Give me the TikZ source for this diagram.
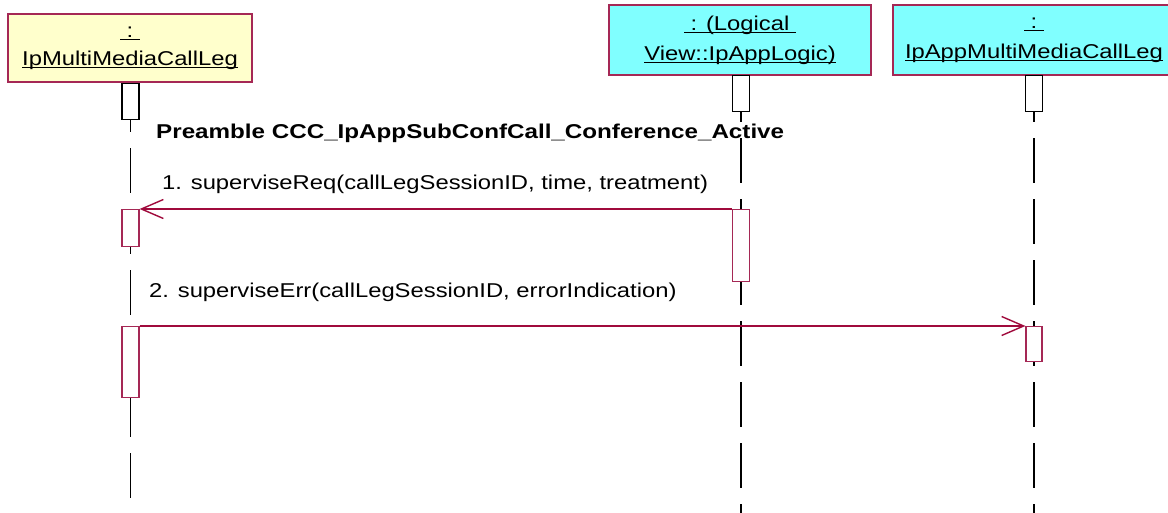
\documentclass[tikz,border=0pt]{standalone}
\usepackage{fontspec}
\setmainfont{Liberation Sans}
\usetikzlibrary{arrows.meta}
\definecolor{bord}{RGB}{165,40,85}
\definecolor{msgc}{RGB}{160,10,60}
\definecolor{ybox}{RGB}{255,255,204}
\definecolor{cbox}{RGB}{128,255,255}
\newcommand\hs[1]{\scalebox{1.19}[1]{#1}}
\newcommand\hsb[1]{\scalebox{1.21}[1]{#1}}
\newcommand\ulx[1]{\setbox0\hbox{\hs{#1}}\rlap{\rule[-3.2pt]{\wd0}{1.3pt}}\box0}
\tikzset{
  objbox/.style={draw=bord, line width=1.2pt, inner sep=0pt, align=center,
    font=\fontsize{20}{30}\selectfont},
  topact/.style={draw=black, fill=white, line width=1.2pt, inner sep=0pt,
    minimum width=17pt, minimum height=36pt},
  actbox/.style={draw=bord, fill=white, line width=1.2pt, inner sep=0pt, minimum width=17pt},
  lifeline/.style={draw=black, line width=1.3pt, dash pattern=on 45pt off 16pt},
  msg/.style={draw=msgc, line width=1.2pt, -{Straight Barb[length=22pt,width=19pt,line width=1.4pt]}},
  lbl/.style={anchor=base west, inner sep=0pt, font=\fontsize{20}{24}\selectfont}
}
\begin{document}
\begin{tikzpicture}[x=1pt,y=-1pt]
\useasboundingbox[fill=white] (0,0) rectangle (1168,513);
% objects
\node[objbox, fill=ybox, minimum width=244pt, minimum height=68pt,
  font=\fontsize{20}{28}\selectfont] (o1) at (130,48)
  {\ulx{\ :\ }\\\ulx{IpMultiMediaCallLeg}};
\node[objbox, fill=cbox, minimum width=262pt, minimum height=70pt] (o2) at (740,40)
  {\ulx{\ : (Logical\ }\\\ulx{View::IpAppLogic)}};
\node[objbox, fill=cbox, minimum width=282pt, minimum height=70pt] (o3) at (1034,40)
  {\ulx{\ :\ }\\\ulx{IpAppMultiMediaCallLeg}};
% top activations
\node[topact, anchor=north] (t1) at (130.5,83) {};
\node[topact, anchor=north] (t2) at (741,75) {};
\node[topact, anchor=north] (t3) at (1034,75) {};
% lifeline ends
\coordinate (e1) at (130.5,513);
\coordinate (e2) at (741,513);
\coordinate (e3) at (1034,513);
\draw[lifeline, dash phase=33pt] (t1.south) -- (e1);
\draw[lifeline, dash phase=35pt] (t2.south) -- (e2);
\draw[lifeline, dash phase=35pt] (t3.south) -- (e3);
% activation boxes
\node[actbox, anchor=north, minimum height=37pt] (a1) at (130.5,209) {};
\node[actbox, anchor=north, minimum height=72pt] (a2) at (741,209) {};
\node[actbox, anchor=north, minimum height=71pt] (a3) at (130.5,326) {};
\node[actbox, anchor=north, minimum width=16pt, minimum height=35pt] (a4) at (1034,326) {};
% messages
\draw[msg] (a2.north west) -- (a1.north east);
\draw[msg] (a3.north east) -- (a4.north west);
% labels
\node[lbl, font=\fontsize{20}{24}\selectfont\bfseries] (title) at (156,139)
  {\hsb{Preamble CCC\_IpAppSubConfCall\_Conference\_Active}};
\node[lbl] (m1) at (162,190) {\hs{1. superviseReq(callLegSessionID, time, treatment)}};
\node[lbl] (m2) at (149,298) {\hs{2. superviseErr(callLegSessionID, errorIndication)}};
\end{tikzpicture}
\end{document}
